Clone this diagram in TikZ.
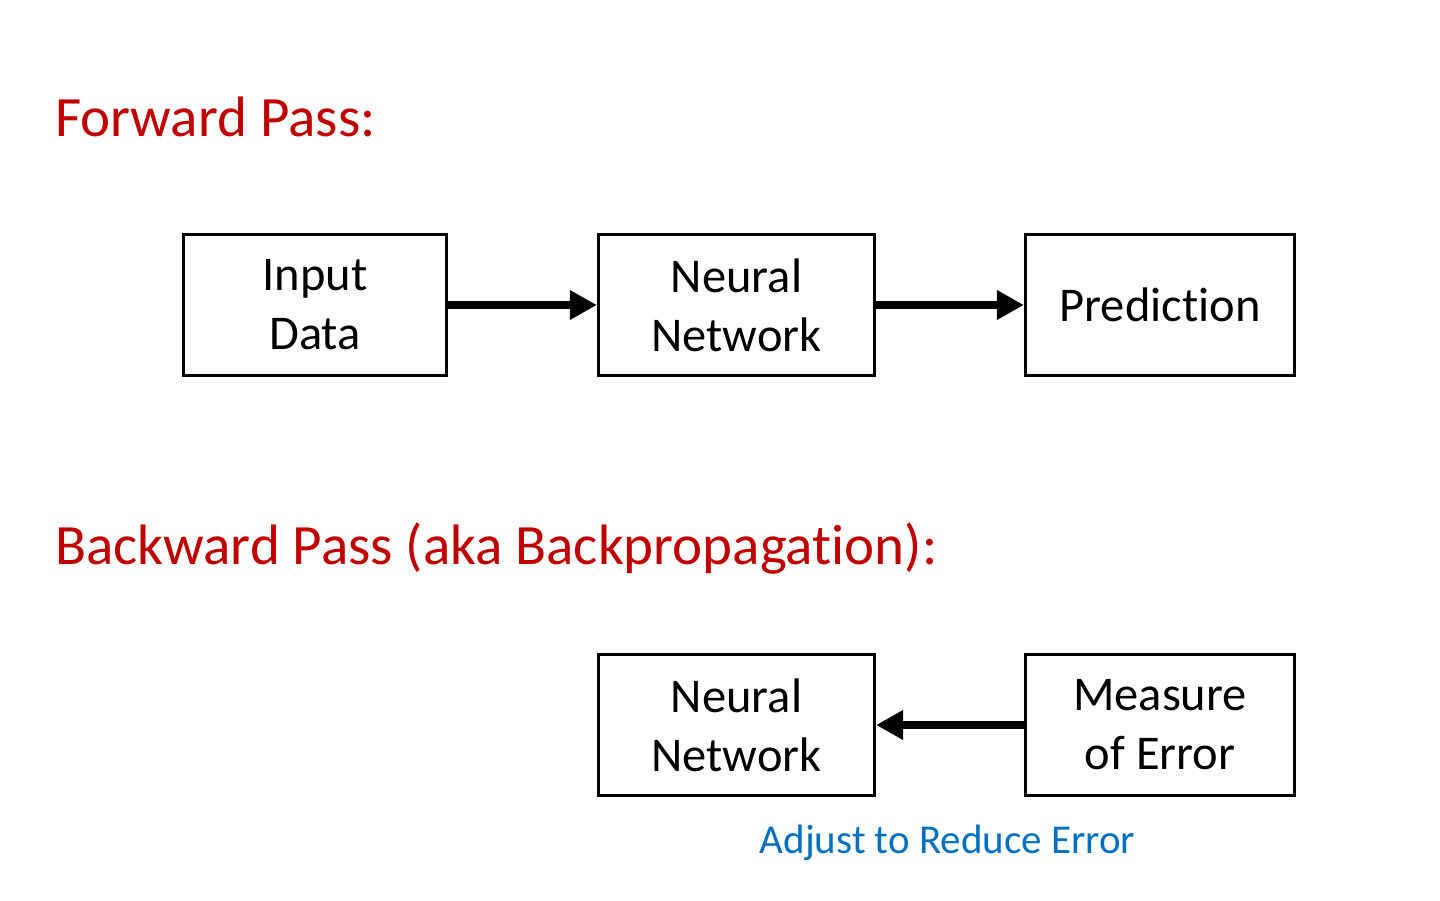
\documentclass[tikz,border=0pt]{standalone}
\usepackage{fontspec}
\setmainfont{Carlito}[Ligatures=NoCommon]
\usetikzlibrary{arrows.meta}
\definecolor{titlered}{HTML}{C00000}
\definecolor{noteblue}{HTML}{0070C0}
\tikzset{
  box/.style={draw=black, line width=3.2pt, minimum height=141pt, inner sep=0pt,
    align=center, font=\fontsize{48.5}{59}\selectfont},
  flow/.style={line width=8pt, -{Triangle[length=27pt,width=28pt]}},
  heading/.style={anchor=base west, inner sep=0pt, text=titlered, font=\fontsize{57}{68}\selectfont},
  note/.style={anchor=base, inner sep=0pt, text=noteblue, font=\fontsize{41}{49}\selectfont}
}
\begin{document}
\begin{tikzpicture}[x=1pt,y=-1pt]
\useasboundingbox (0,0) rectangle (1440,900);
\node[heading] (fwd) at (55,136) {Forward Pass:};
\node[heading] (bwd) at (55,564) {Backward Pass (aka Backpropagation):};

\node[box, minimum width=263pt] (in) at (315,305) {Input\\Data};
\node[box, minimum width=276pt] (nn1) at (736.5,305) {Neural\\Network};
\node[box, minimum width=269pt] (pred) at (1160,305) {Prediction};

\node[box, minimum width=276pt] (nn2) at (736.5,725) {Neural\\Network};
\node[box, minimum width=269pt] (err) at (1160,725) {Measure\\of Error};

\draw[flow] (in.east) -- (nn1.west);
\draw[flow] (nn1.east) -- (pred.west);
\draw[flow] (err.west) -- (nn2.east);

\node[note] (adj) at (947.5,853) {Adjust to Reduce Error};
\end{tikzpicture}
\end{document}
